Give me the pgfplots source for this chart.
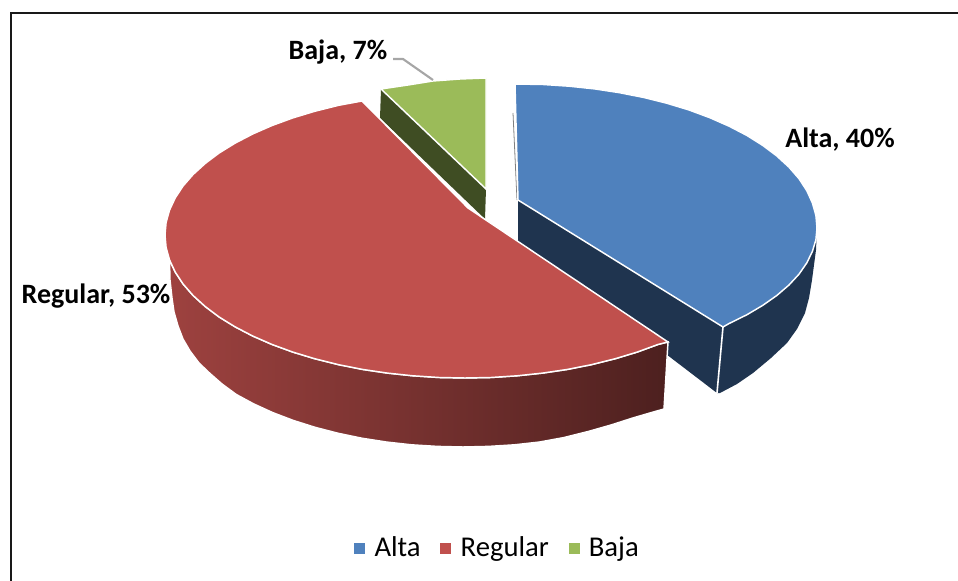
\documentclass[border=0pt]{standalone}
\usepackage{pgfplots}
\pgfplotsset{compat=1.18}
\usepackage{fontspec}
\setmainfont{Carlito}

\definecolor{altatop}{HTML}{4F81BD}
\definecolor{altaside}{HTML}{1F344F}
\definecolor{regtop}{HTML}{C0504D}
\definecolor{bajatop}{HTML}{9BBB59}
\definecolor{bajaside}{HTML}{3F4D23}

\begin{document}
\begin{tikzpicture}
\useasboundingbox (0,0) rectangle (718.5pt,435.75pt);
\begin{axis}[
  at={(0,0)}, anchor=south west,
  scale only axis,
  width=718.5pt, height=435.75pt,
  xmin=0, xmax=958, ymin=0, ymax=581,
  y dir=reverse,
  hide axis,
  clip=false,
  legend columns=3,
  legend style={
    at={(axis cs:498,548)}, anchor=center,
    draw=none, fill=none,
    font=\fontsize{21.5}{23}\selectfont,
    /tikz/every even column/.append style={column sep=13pt},
    /tikz/every odd column/.append style={column sep=5.5pt},
  },
  legend cell align=left,
]

% frame of the chart (top and left only, the crop cuts the rest)
\draw[black!90, line width=2.1pt] (axis cs:11,581) -- (axis cs:11,13) -- (axis cs:958,13);

% Alta, sides
\addplot[forget plot, fill=altaside, draw=none] coordinates {
  (518,200) (723,327) (717,393) (518,241)
} -- cycle;
\addplot[forget plot, fill=altaside, draw=none] coordinates {
  (817,228) (815.9,239.8) (812.4,251.4) (806.8,262.9) (799,274.2) (788.9,285.1)
  (776.8,295.5) (762.7,305.4) (746.8,314.8) (729.1,323.5) (723,327) (717,393)
  (720,393) (737,384) (753,373) (771,358) (787,343) (797,329) (805,313) (809,298)
  (812,280) (814,265) (816,250)
} -- cycle;
\addplot[forget plot, white, line width=1.2pt] coordinates {(723,327) (717,393)};
\addplot[forget plot, gray, line width=0.6pt] coordinates {(513,113) (517,200)};

% Alta, top face
\addplot[forget plot, fill=altatop, draw=white, line width=1.1pt] coordinates {
  (515,84) (543.1,84.5) (569.1,86.2) (594.6,88.9) (619.6,92.7) (643.8,97.5)
  (667,103.3) (689.1,110) (709.8,117.7) (729.1,126.2) (746.8,135.4) (762.7,145.4)
  (776.8,156) (788.9,167.1) (799,178.7) (806.8,190.7) (812.4,203) (815.9,215.4)
  (817,228) (815.9,239.8) (812.4,251.4) (806.8,262.9) (799,274.2) (788.9,285.1)
  (776.8,295.5) (762.7,305.4) (746.8,314.8) (729.1,323.5) (723,327) (518,200)
} -- cycle;

% Baja, side and top face
\addplot[forget plot, fill=bajaside, draw=none] coordinates {
  (381,89) (380,118) (485,219) (486,189)
} -- cycle;
\addplot[forget plot, fill=bajatop, draw=white, line width=1.1pt] coordinates {
  (486,78) (460,79) (433,81) (408,85) (381,89) (486,189)
} -- cycle;

% Regular, side with its gradient
\addplot[forget plot, left color=regtop!82!black, middle color=regtop!60!black,
  right color=regtop!40!black, draw=white, line width=1.1pt] coordinates {
  (668,342) (657.9,344.5) (637.1,352.1) (615,358.8) (591.8,364.6) (567.6,369.4)
  (542.6,373.1) (517.1,375.8) (491.1,377.5) (465,378) (438.9,377.5) (412.9,375.8)
  (387.4,373.1) (362.4,369.4) (338.2,364.6) (315,358.8) (292.9,352.1) (272.1,344.5)
  (252.9,336.1) (235.2,326.9) (219.3,317.1) (205.2,306.5) (193.1,295.5) (183,283.9)
  (175.2,272) (169.5,259.8)
  (170,280) (172,298) (174,312) (178,326) (183,339) (190,351) (199,363)
  (210,373.5) (222,384) (236.3,394.5) (253.7,403.9) (272.7,412.6) (293.2,420.4)
  (315,427.3) (337.8,433.2) (361.8,438.2) (386.3,442) (411.5,444.8) (437.2,446.4)
  (463,447) (488.8,446.4) (514.5,444.8) (539.7,442) (564.2,437.5) (588.2,431.5)
  (611,425) (632.8,418) (653.3,412) (664,409)
} -- cycle;

% Regular, top face
\addplot[forget plot, fill=regtop, draw=white, line width=1.1pt] coordinates {
  (668,342) (657.9,344.5) (637.1,352.1) (615,358.8) (591.8,364.6) (567.6,369.4)
  (542.6,373.1) (517.1,375.8) (491.1,377.5) (465,378) (438.9,377.5) (412.9,375.8)
  (387.4,373.1) (362.4,369.4) (338.2,364.6) (315,358.8) (292.9,352.1) (272.1,344.5)
  (252.9,336.1) (235.2,326.9) (219.3,317.1) (205.2,306.5) (193.1,295.5) (183,283.9)
  (175.2,272) (169.5,259.8) (166.1,247.5) (165,235) (166.1,222.5) (169.5,210.2)
  (175.2,198) (183,186.1) (193.1,174.5) (205.2,163.5) (219.3,152.9) (235.2,143.1)
  (252.9,133.9) (272.1,125.5) (292.9,117.9) (315,111.2) (338.2,105.4) (362,101)
  (468,208)
} -- cycle;

% leader line of the Baja label
\addplot[forget plot, color=black!35, line width=1.6pt] coordinates {(393,59) (403,59) (433,80)};

% data labels
\node[anchor=center, font=\fontsize{21}{23}\selectfont\bfseries] at (axis cs:338,52) {Baja, 7\%};
\node[anchor=center, font=\fontsize{21}{23}\selectfont\bfseries] at (axis cs:840,140) {Alta, 40\%};
\node[anchor=center, font=\fontsize{21}{23}\selectfont\bfseries] at (axis cs:96,296) {Regular, 53\%};

% legend
\addlegendimage{only marks, mark=square*, mark size=3.75pt, color=altatop}
\addlegendentry{Alta}
\addlegendimage{only marks, mark=square*, mark size=3.75pt, color=regtop}
\addlegendentry{Regular}
\addlegendimage{only marks, mark=square*, mark size=3.75pt, color=bajatop}
\addlegendentry{Baja}

\end{axis}
\end{tikzpicture}
\end{document}
